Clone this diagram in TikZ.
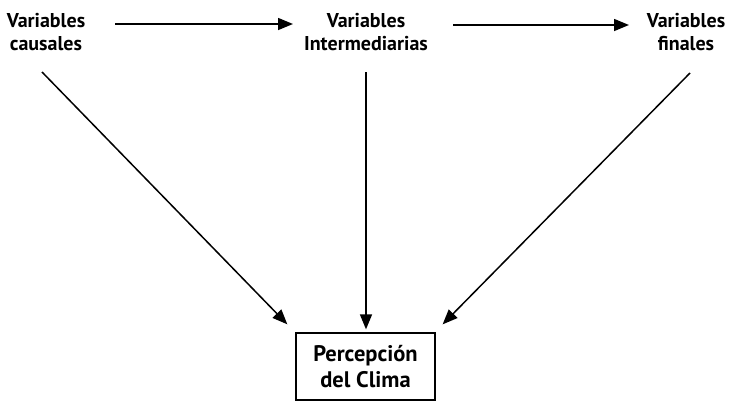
\documentclass[tikz,border=0pt]{standalone}
\usepackage{fontspec}
\setmainfont{PT Sans}
\usetikzlibrary{arrows.meta}
\begin{document}
\begin{tikzpicture}[x=1pt,y=-1pt,
  lbl/.style={inner sep=0pt,align=center,font=\bfseries\fontsize{20}{23}\selectfont},
  boxnode/.style={draw,line width=1.3pt,minimum width=139pt,minimum height=67pt,inner sep=0pt,align=center,font=\bfseries\fontsize{22.5}{26}\selectfont},
  arr/.style={line width=1.5pt,-{Triangle[length=15pt,width=12pt]}}]
\useasboundingbox (0,0) rectangle (729,402);
\node[lbl] (c) at (46,32) {Variables\\causales};
\node[lbl] (i) at (366,32) {Variables\\Intermediarias};
\node[lbl] (f) at (686,32) {Variables\\finales};
\node[boxnode] (p) at (365.5,366.5) {Percepción\\del Clima};
\coordinate (cs) at (42,72);
\coordinate (is) at (366,72);
\coordinate (fs) at (690,73);
\coordinate (a1s) at (115,24);
\coordinate (a1e) at (293,24);
\coordinate (a2s) at (453,25);
\coordinate (a2e) at (629,25);
\draw[arr] (a1s) -- (a1e);
\draw[arr] (a2s) -- (a2e);
\draw[arr] (cs) -- ([shift={(-8pt,8pt)}]p.north west);
\draw[arr] (is) -- ([xshift=0.5pt,yshift=3pt]p.north);
\draw[arr] (fs) -- ([shift={(7pt,8pt)}]p.north east);
\end{tikzpicture}
\end{document}
